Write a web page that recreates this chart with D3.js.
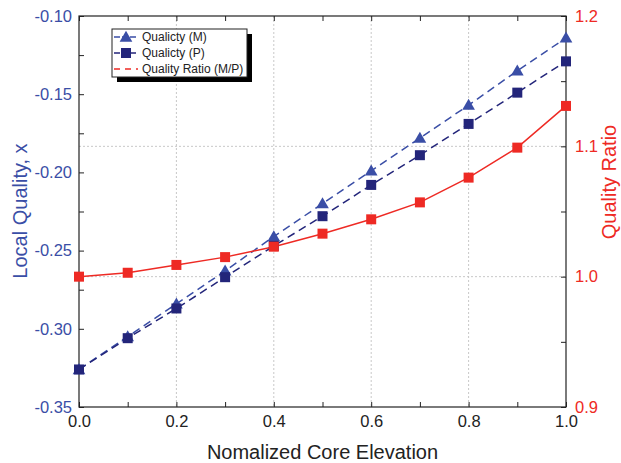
<!DOCTYPE html>
<html>
<head>
<meta charset="utf-8">
<script src="https://cdnjs.cloudflare.com/ajax/libs/d3/7.8.5/d3.min.js"></script>
<style>
body { margin: 0; background: #fff; }
svg text { font-family: "Liberation Sans", Arial, sans-serif; }
</style>
</head>
<body>
<svg id="vis" width="621" height="463"></svg>
<script>
// data
var elevation = [0.0, 0.1, 0.2, 0.3, 0.4, 0.5, 0.6, 0.7, 0.8, 0.9, 1.0];
var qualityM = [-0.326, -0.305, -0.284, -0.263, -0.241, -0.220, -0.199, -0.178, -0.157, -0.135, -0.114];
var qualityP = [-0.326, -0.306, -0.287, -0.267, -0.247, -0.228, -0.208, -0.189, -0.169, -0.149, -0.129];
var qualityRatio = [1.000, 1.003, 1.009, 1.015, 1.023, 1.033, 1.044, 1.057, 1.076, 1.099, 1.131];
var xTicks = [0.0, 0.2, 0.4, 0.6, 0.8, 1.0];
var yLeftTicks = [-0.35, -0.30, -0.25, -0.20, -0.15, -0.10];
var yRightTicks = [0.9, 1.0, 1.1, 1.2];
var legendNames = ["Qualicty (M)", "Qualicty (P)", "Quality Ratio (M/P)"];

var blueM = "#3a4ea6", blueP = "#23257a", red = "#ee2a24";

var svg = d3.select("#vis"),
	margin = {top: 16, right: 55, bottom: 56, left: 79},
	width = 621,
	height = 463;

var x = d3.scaleLinear().domain([0, 1]).range([margin.left, width - margin.right]);
var yL = d3.scaleLinear().domain([-0.35, -0.10]).range([height - margin.bottom, margin.top]);
var yR = d3.scaleLinear().domain([0.9, 1.2]).range([height - margin.bottom, margin.top]);

var x0 = x(0), x1 = x(1), yb = yL(-0.35), yt = yL(-0.10);

// grid
var grid = svg.append("g").attr("stroke", "#c8c8c8").attr("stroke-dasharray", "2,2").attr("stroke-width", 1);
[0.2, 0.4, 0.6, 0.8].forEach(function(v) {
	grid.append("line").attr("x1", x(v)).attr("x2", x(v)).attr("y1", yt).attr("y2", yb);
});
[1.0, 1.1].forEach(function(v) {
	grid.append("line").attr("x1", x0).attr("x2", x1).attr("y1", yR(v)).attr("y2", yR(v));
});

// axes with inward ticks
function styleAxis(g, color) {
	g.select(".domain").remove();
	g.selectAll(".tick line").attr("stroke", "#222");
	g.selectAll(".tick text").attr("fill", color).style("font-size", "16.5px");
}
var minorX = d3.range(0, 11).map(function(i) { return i / 10; });
var minorL = d3.range(0, 11).map(function(i) { return -0.35 + i * 0.025; });
var minorR = d3.range(0, 7).map(function(i) { return 0.9 + i * 0.05; });

svg.append("g").attr("transform", "translate(0," + yb + ")")
	.call(d3.axisTop(x).tickValues(minorX).tickSize(5).tickFormat(""))
	.call(function(g) { styleAxis(g, "#222"); });
svg.append("g").attr("transform", "translate(0," + yt + ")")
	.call(d3.axisBottom(x).tickValues(minorX).tickSize(5).tickFormat(""))
	.call(function(g) { styleAxis(g, "#222"); });
svg.append("g").attr("transform", "translate(0," + yb + ")")
	.call(d3.axisBottom(x).tickValues(xTicks).tickSize(0).tickPadding(8).tickFormat(function(d) { return d.toFixed(1); }))
	.call(function(g) { styleAxis(g, "#222"); });

svg.append("g").attr("transform", "translate(" + x0 + ",0)")
	.call(d3.axisRight(yL).tickValues(minorL).tickSize(5).tickFormat(""))
	.call(function(g) { styleAxis(g, blueM); });
svg.append("g").attr("transform", "translate(" + x0 + ",0)")
	.call(d3.axisLeft(yL).tickValues(yLeftTicks).tickSize(0).tickPadding(7).tickFormat(function(d) { return d.toFixed(2); }))
	.call(function(g) { styleAxis(g, blueM); });

svg.append("g").attr("transform", "translate(" + x1 + ",0)")
	.call(d3.axisLeft(yR).tickValues(minorR).tickSize(5).tickFormat(""))
	.call(function(g) { styleAxis(g, red); });
svg.append("g").attr("transform", "translate(" + x1 + ",0)")
	.call(d3.axisRight(yR).tickValues(yRightTicks).tickSize(0).tickPadding(9).tickFormat(function(d) { return d.toFixed(1); }))
	.call(function(g) { styleAxis(g, red); });

// frame
svg.append("rect").attr("x", x0).attr("y", yt).attr("width", x1 - x0).attr("height", yb - yt)
	.attr("fill", "none").attr("stroke", "#222").attr("stroke-width", 1.2);

// axis titles
svg.append("text").attr("x", (x0 + x1) / 2).attr("y", 459).attr("text-anchor", "middle")
	.style("font-size", "20px").attr("fill", "#222").text("Nomalized Core Elevation");
svg.append("text").attr("transform", "translate(27,211) rotate(-90)").attr("text-anchor", "middle")
	.style("font-size", "20px").attr("fill", blueM).text("Local Quality, x");
svg.append("text").attr("transform", "translate(616,182) rotate(-90)").attr("text-anchor", "middle")
	.style("font-size", "20px").attr("fill", red).text("Quality Ratio");

// series
var lineL = function(vals) {
	return d3.line().x(function(d, i) { return x(elevation[i]); }).y(function(d) { return yL(d); })(vals);
};
svg.append("path").attr("d", lineL(qualityM)).attr("fill", "none").attr("stroke", blueM)
	.attr("stroke-width", 1.5).attr("stroke-dasharray", "8,5");
svg.append("path").attr("d", lineL(qualityP)).attr("fill", "none").attr("stroke", blueP)
	.attr("stroke-width", 1.5).attr("stroke-dasharray", "8,5");
svg.append("path")
	.attr("d", d3.line().x(function(d, i) { return x(elevation[i]); }).y(function(d) { return yR(d); })(qualityRatio))
	.attr("fill", "none").attr("stroke", red).attr("stroke-width", 1.5);

var tri = d3.symbol().type(d3.symbolTriangle).size(70);
svg.selectAll(".mM").data(qualityM).enter().append("path")
	.attr("d", tri).attr("fill", blueM)
	.attr("transform", function(d, i) { return "translate(" + x(elevation[i]) + "," + (yL(d) + 1) + ")"; });
svg.selectAll(".mP").data(qualityP).enter().append("rect")
	.attr("x", function(d, i) { return x(elevation[i]) - 5; })
	.attr("y", function(d) { return yL(d) - 5; })
	.attr("width", 10).attr("height", 10).attr("fill", blueP);
svg.selectAll(".mR").data(qualityRatio).enter().append("rect")
	.attr("x", function(d, i) { return x(elevation[i]) - 5; })
	.attr("y", function(d) { return yR(d) - 5; })
	.attr("width", 10).attr("height", 10).attr("fill", red);

// legend
var lg = svg.append("g").attr("transform", "translate(112,29)");
lg.append("rect").attr("x", 5).attr("y", 5).attr("width", 135).attr("height", 48).attr("fill", "#000");
lg.append("rect").attr("x", 0).attr("y", 0).attr("width", 135).attr("height", 48)
	.attr("fill", "#fff").attr("stroke", "#222").attr("stroke-width", 1);
var rows = [
	{name: legendNames[0], color: blueM, dash: "6,2", marker: "tri"},
	{name: legendNames[1], color: blueP, dash: "6,2", marker: "sq"},
	{name: legendNames[2], color: red, dash: "6,5", marker: null}
];
rows.forEach(function(r, i) {
	var yy = 8 + i * 16;
	lg.append("line").attr("x1", 2).attr("x2", 26).attr("y1", yy).attr("y2", yy)
		.attr("stroke", r.color).attr("stroke-width", 1.5).attr("stroke-dasharray", r.dash);
	if (r.marker === "tri") {
		lg.append("path").attr("d", tri).attr("fill", r.color).attr("transform", "translate(14," + (yy + 1) + ")");
	} else if (r.marker === "sq") {
		lg.append("rect").attr("x", 9).attr("y", yy - 5).attr("width", 10).attr("height", 10).attr("fill", r.color);
	}
	lg.append("text").attr("x", 30).attr("y", yy + 4).style("font-size", "12px").attr("fill", "#222").text(r.name);
});
</script>
</body>
</html>
